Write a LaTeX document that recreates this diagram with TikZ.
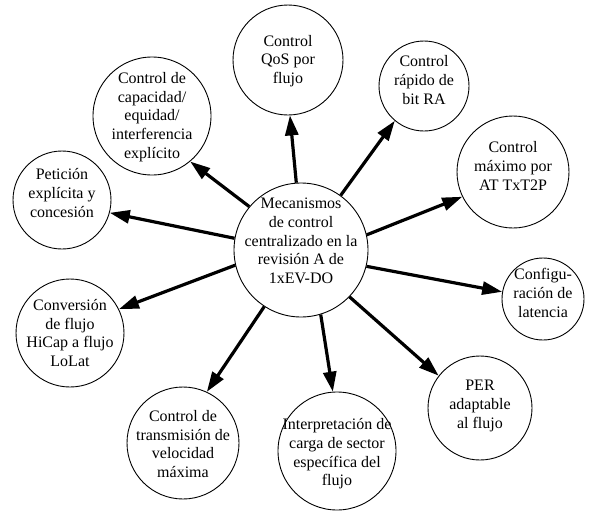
\documentclass[tikz,border=0pt]{standalone}
\usepackage{fontspec}
\setmainfont{Liberation Serif}
\usetikzlibrary{arrows.meta}
\begin{document}
\begin{tikzpicture}[x=1pt,y=-1pt,
  bubble/.style={draw=black, line width=0.9pt, circle, inner sep=0pt, minimum size=#1},
  label text/.style={align=center, inner sep=0pt, font=\fontsize{16}{18.7}\selectfont},
  link/.style={line width=3.2pt, -{Triangle[length=20pt,width=13pt]}}]
\useasboundingbox (0,0) rectangle (590,512);

% circles
\node[bubble=134pt] (hub)  at (301,250) {};
\node[bubble=110pt] (qos)  at (288,60)  {};
\node[bubble=90pt]  (bit)  at (424,86)  {};
\node[bubble=112pt] (tx)   at (513,172) {};
\node[bubble=82pt]  (lat)  at (543,299) {};
\node[bubble=104pt] (per)  at (480,408) {};
\node[bubble=118pt] (sec)  at (337,451) {};
\node[bubble=112pt] (vel)  at (183,443) {};
\node[bubble=108pt] (conv) at (70,333)  {};
\node[bubble=98pt]  (req)  at (62,200)  {};
\node[bubble=118pt] (cap)  at (152,116) {};

% texts
\node[label text] (hubt)  at (301,241) {Mecanismos\\de control\\centralizado en la\\revisión A de\\1xEV-DO};
\node[label text] (qost)  at (288,61)  {Control\\QoS por\\flujo};
\node[label text] (bitt)  at (424,80)  {Control\\rápido de\\bit RA};
\node[label text] (txt)   at (513,166) {Control\\máximo por\\AT TxT2P};
\node[label text] (latt)  at (543,293) {Configu-\\ración de\\latencia};
\node[label text] (pert)  at (480,406) {PER\\adaptable\\al flujo};
\node[label text] (sect)  at (337,454) {Interpretación de\\carga de sector\\específica del\\flujo};
\node[label text] (velt)  at (183,444) {Control de\\transmisión de\\velocidad\\máxima};
\node[label text] (convt) at (70,333)  {Conversión\\de flujo\\HiCap a flujo\\LoLat};
\node[label text] (reqt)  at (62,193)  {Petición\\explícita y\\concesión};
\node[label text] (capt)  at (152,117) {Control de\\capacidad/\\equidad/\\interferencia\\explícito};

% connectors
\draw[link] (hub.94)   -- (qos.-88);
\draw[link] (hub.54)   -- (bit.230);
\draw[link] (hub.13.5) -- (tx.206);
\draw[link] (hub.-14)  -- (lat.170);
\draw[link] (hub.-44)  -- (per.142.5);
\draw[link] (hub.-73)  -- (sec.94);
\draw[link] (hub.-123) -- (vel.65.6);
\draw[link] (hub.193)  -- (conv.26.6);
\draw[link] (hub.170)  -- (req.-15);
\draw[link] (hub.140)  -- (cap.-50);
\end{tikzpicture}
\end{document}
